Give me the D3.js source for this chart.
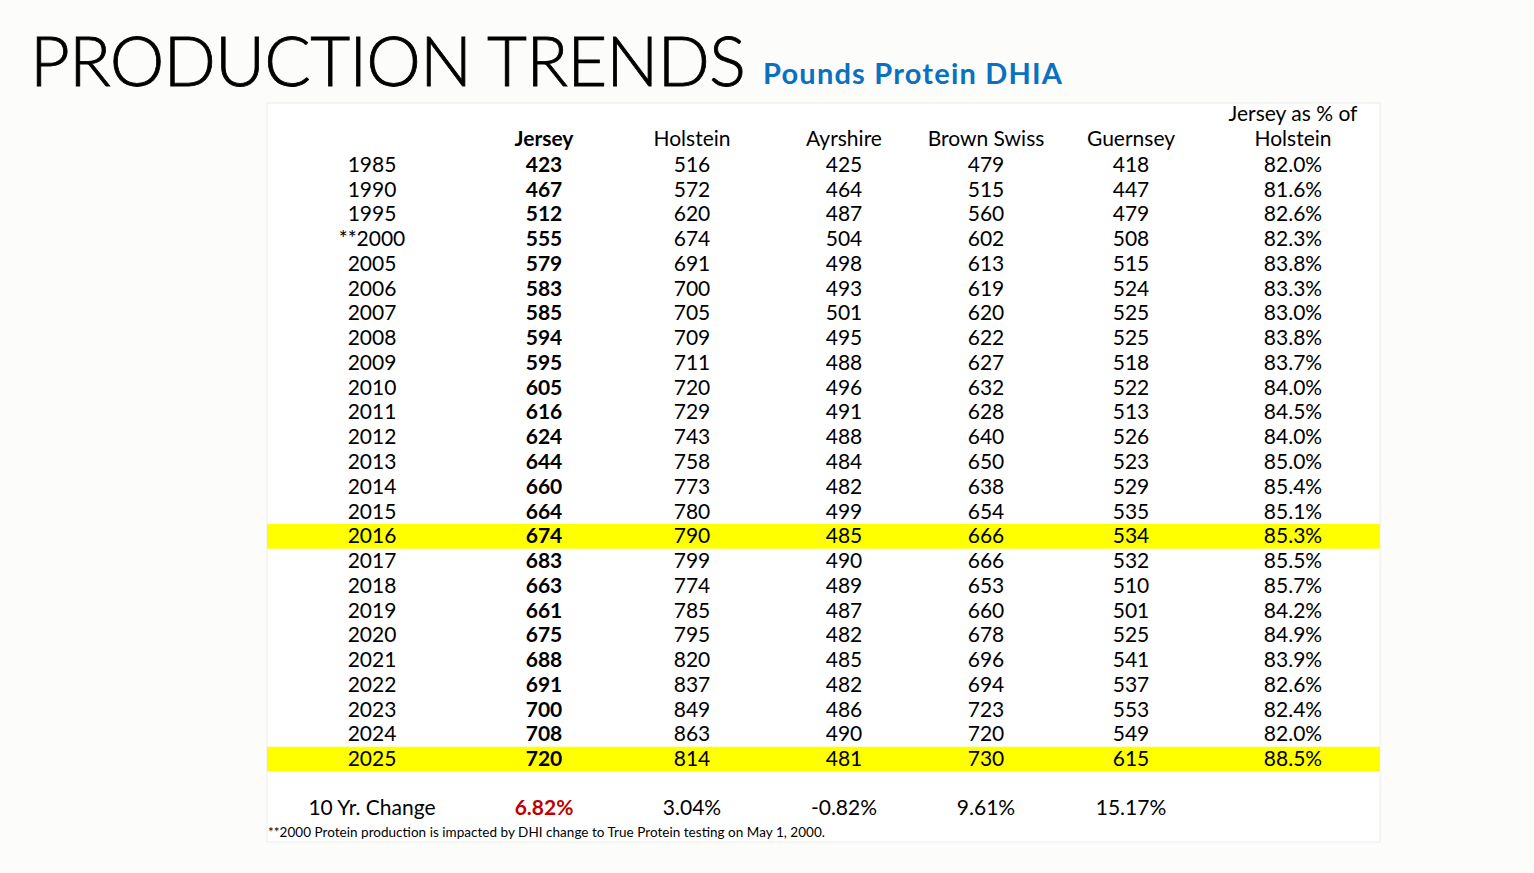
<!DOCTYPE html>
<html>
<head>
<meta charset="utf-8">
<script src="https://cdn.jsdelivr.net/npm/d3@7"></script>
<style>
  body { margin: 0; background: #fcfcfb; }
  svg { display: block; }
</style>
</head>
<body>
<svg id="chart"></svg>
<script>
// data
const years = ["1985", "1990", "1995", "**2000", "2005", "2006", "2007", "2008", "2009", "2010",
    "2011", "2012", "2013", "2014", "2015", "2016", "2017", "2018", "2019", "2020",
    "2021", "2022", "2023", "2024", "2025"];
const jersey = [423, 467, 512, 555, 579, 583, 585, 594, 595, 605, 616, 624, 644, 660, 664,
    674, 683, 663, 661, 675, 688, 691, 700, 708, 720];
const holstein = [516, 572, 620, 674, 691, 700, 705, 709, 711, 720, 729, 743, 758, 773, 780,
    790, 799, 774, 785, 795, 820, 837, 849, 863, 814];
const ayrshire = [425, 464, 487, 504, 498, 493, 501, 495, 488, 496, 491, 488, 484, 482, 499,
    485, 490, 489, 487, 482, 485, 482, 486, 490, 481];
const brownSwiss = [479, 515, 560, 602, 613, 619, 620, 622, 627, 632, 628, 640, 650, 638, 654,
    666, 666, 653, 660, 678, 696, 694, 723, 720, 730];
const guernsey = [418, 447, 479, 508, 515, 524, 525, 525, 518, 522, 513, 526, 523, 529, 535,
    534, 532, 510, 501, 525, 541, 537, 553, 549, 615];
const jerseyPctHolstein = ["82.0%", "81.6%", "82.6%", "82.3%", "83.8%", "83.3%", "83.0%", "83.8%",
    "83.7%", "84.0%", "84.5%", "84.0%", "85.0%", "85.4%", "85.1%", "85.3%", "85.5%", "85.7%",
    "84.2%", "84.9%", "83.9%", "82.6%", "82.4%", "82.0%", "88.5%"];
const tenYrChange = ["6.82%", "3.04%", "-0.82%", "9.61%", "15.17%"];
const highlightYears = ["2016", "2025"];
const columns = ["year", "jersey", "holstein", "ayrshire", "brownSwiss", "guernsey", "pct"];
const headers = ["", "Jersey", "Holstein", "Ayrshire", "Brown Swiss", "Guernsey", "Jersey as % of|Holstein"];

const rows = years.map(function(y, i) {
    return {
        year: y, jersey: jersey[i], holstein: holstein[i], ayrshire: ayrshire[i],
        brownSwiss: brownSwiss[i], guernsey: guernsey[i], pct: jerseyPctHolstein[i]
    };
});

// layout
const width = 1534;
const height = 873;
const font = "Lato, 'Noto Sans', sans-serif";
const fontSize = 21;
const panel = {left: 267, right: 1380, top: 103, bottom: 842};

const svg = d3.select('#chart')
    .attr('width', width)
    .attr('height', height);

// title
svg.append("text")
    .attr("x", 30)
    .attr("y", 86)
    .attr("font-family", font)
    .attr("font-weight", 300)
    .attr("font-size", 69)
    .attr("fill", "#000")
    .attr("stroke", "#000")
    .attr("stroke-width", 0.8)
    .attr("textLength", 716)
    .text("PRODUCTION TRENDS");

svg.append("text")
    .attr("x", 763)
    .attr("y", 84)
    .attr("font-family", font)
    .attr("font-weight", 700)
    .attr("font-size", 29)
    .attr("fill", "#0a70c0")
    .attr("textLength", 299)
    .text("Pounds Protein DHIA");

// panel
svg.append("rect")
    .attr("x", panel.left)
    .attr("y", panel.top)
    .attr("width", panel.right - panel.left)
    .attr("height", panel.bottom - panel.top)
    .attr("fill", "#ffffff")
    .attr("stroke", "#ececec")
    .attr("stroke-width", 1);

// scales
const x = d3.scaleOrdinal()
    .domain(columns)
    .range([372, 544, 692, 844, 986, 1131, 1293]);

const y = d3.scaleBand()
    .domain(years)
    .range([153, 772])
    .paddingInner(0)
    .paddingOuter(0);

// highlight rows
svg.selectAll("rect.hl")
    .data(highlightYears)
    .enter()
    .append("rect")
    .attr("class", "hl")
    .attr("x", panel.left)
    .attr("y", d => y(d) - 0.5)
    .attr("width", panel.right - panel.left)
    .attr("height", y.bandwidth())
    .attr("fill", "#ffff00");

// headers
const headG = svg.append("g")
    .attr("font-family", font)
    .attr("font-size", fontSize)
    .attr("text-anchor", "middle")
    .attr("fill", "#000");

headers.forEach(function(h, i) {
    const lines = h.split("|");
    lines.forEach(function(line, j) {
        headG.append("text")
            .attr("x", x(columns[i]))
            .attr("y", 146 - (lines.length - 1 - j) * 24.75)
            .attr("font-weight", columns[i] === "jersey" ? 700 : 400)
            .text(line);
    });
});

// body cells
const body = svg.append("g")
    .attr("font-family", font)
    .attr("font-size", fontSize)
    .attr("text-anchor", "middle")
    .attr("fill", "#000");

const rowG = body.selectAll("g.row")
    .data(rows)
    .enter()
    .append("g")
    .attr("class", "row")
    .attr("transform", d => "translate(0," + (y(d.year) + y.bandwidth() / 2 + 6.5) + ")");

rowG.selectAll("text")
    .data(d => columns.map(c => ({col: c, value: d[c]})))
    .enter()
    .append("text")
    .attr("x", d => x(d.col))
    .attr("font-weight", d => d.col === "jersey" ? 700 : 400)
    .text(d => d.value);

// 10 year change row
const changeG = svg.append("g")
    .attr("font-family", font)
    .attr("font-size", fontSize)
    .attr("text-anchor", "middle");

changeG.append("text")
    .attr("x", x("year"))
    .attr("y", 815)
    .attr("fill", "#000")
    .text("10 Yr. Change");

changeG.selectAll("text.chg")
    .data(tenYrChange)
    .enter()
    .append("text")
    .attr("class", "chg")
    .attr("x", (d, i) => x(columns[i + 1]))
    .attr("y", 815)
    .attr("font-weight", (d, i) => i === 0 ? 700 : 400)
    .attr("fill", (d, i) => i === 0 ? "#c00000" : "#000")
    .text(d => d);

// footnote
svg.append("text")
    .attr("x", 268)
    .attr("y", 837)
    .attr("font-family", font)
    .attr("font-size", 13.5)
    .attr("fill", "#000")
    .attr("textLength", 557)
    .text("**2000 Protein production is impacted by DHI change to True Protein testing on May 1, 2000.");
</script>
</body>
</html>
